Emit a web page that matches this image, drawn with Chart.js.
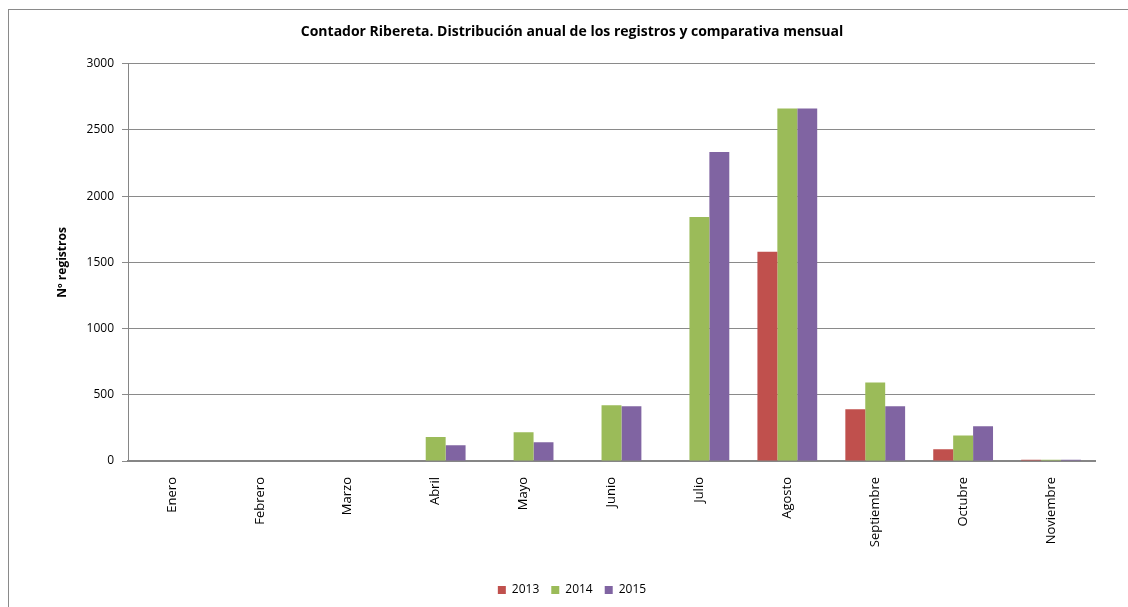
<!DOCTYPE html>
<html>
<head>
<meta charset="utf-8">
<script src="https://cdn.jsdelivr.net/npm/chart.js@4/dist/chart.umd.min.js"></script>
<style>
  html, body { margin: 0; padding: 0; background: #fff; overflow: hidden; }
  #frame {
    position: absolute; left: 8px; top: 9px;
    width: 1132px; height: 620px;
    border: 1px solid #8a8a8a;
  }
  #wrap { position: relative; width: 1132px; height: 620px; }
</style>
</head>
<body>
<div id="frame"><div id="wrap"><canvas id="myChart"></canvas></div></div>
<script>
const months = ['Enero', 'Febrero', 'Marzo', 'Abril', 'Mayo', 'Junio', 'Julio',
  'Agosto', 'Septiembre', 'Octubre', 'Noviembre'];
const years = ['2013', '2014', '2015'];
const values2013 = [0, 0, 0, 0, 0, 0, 0, 1580, 390, 88, 10];
const values2014 = [0, 0, 0, 181, 218, 422, 1843, 2662, 593, 192, 10];
const values2015 = [0, 0, 0, 119, 142, 414, 2333, 2662, 414, 262, 10];
const yTicks = [0, 500, 1000, 1500, 2000, 2500, 3000];

const colors = ['#C0504D', '#9BBB59', '#8064A2'];
const font = "'Open Sans', Lato, sans-serif";

function makeDatasets() {
  const all = [values2013, values2014, values2015];
  return years.map((y, i) => ({
    label: y,
    data: all[i],
    backgroundColor: colors[i],
    borderWidth: 0,
    categoryPercentage: 0.68,
    barPercentage: 1
  }));
}

function initChart(target) {
  return new Chart(target, {
    type: 'bar',
    data: { labels: months, datasets: makeDatasets() },
    options: {
      responsive: true,
      maintainAspectRatio: false,
      animation: false,
      layout: { padding: { left: 40, right: 46, top: 4, bottom: 24 } },
      plugins: {
        title: {
          display: true,
          text: 'Contador Ribereta. Distribución anual de los registros y comparativa mensual',
          color: '#000',
          font: { family: font, size: 14, weight: 'bold' },
          padding: { top: 10, bottom: 23 }
        },
        legend: {
          position: 'bottom',
          labels: {
            color: '#000',
            font: { family: font, size: 12 },
            boxWidth: 8, boxHeight: 8,
            padding: 12
          }
        },
        tooltip: { enabled: false }
      },
      scales: {
        x: {
          grid: { display: false },
          border: { color: '#868686', width: 2 },
          ticks: {
            color: '#000',
            font: { family: font, size: 13 },
            minRotation: 90, maxRotation: 90,
            padding: 8
          },
          afterFit: (scale) => { scale.height = 111; }
        },
        y: {
          min: 0, max: 3000,
          afterBuildTicks: (scale) => { scale.ticks = yTicks.map((v) => ({ value: v })); },
          grid: { color: '#8a8a8a', tickLength: 6, drawTicks: true },
          border: { color: '#868686', width: 1 },
          ticks: {
            color: '#000',
            font: { family: font, size: 12 },
            padding: 8,
            callback: (v) => String(v)
          },
          title: {
            display: true,
            text: 'Nº registros',
            color: '#000',
            font: { family: font, size: 12, weight: 'bold' },
            padding: { top: 6, bottom: 0 }
          },
          afterFit: (scale) => { scale.width = 79; }
        }
      }
    }
  });
}

document.addEventListener('DOMContentLoaded', () => {
  initChart(document.querySelector('#myChart'));
});
</script>
</body>
</html>
